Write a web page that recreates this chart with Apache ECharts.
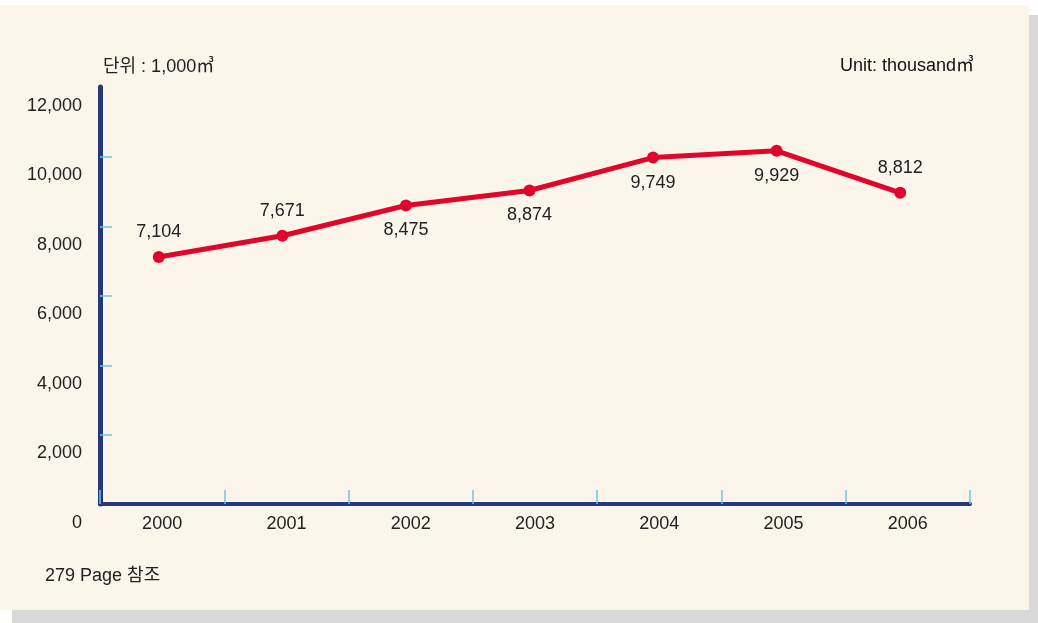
<!DOCTYPE html>
<html><head><meta charset="utf-8">
<script src="https://cdn.jsdelivr.net/npm/echarts@6/dist/echarts.min.js"></script>
<style>
html,body{margin:0;padding:0;background:#fff;width:1038px;height:623px;overflow:hidden;}
#shadow{position:absolute;left:12px;top:15px;width:1026px;height:608px;background:#d9d9d9;}
#paper{position:absolute;left:0;top:5px;width:1029px;height:605px;background:#fbf5ea;}
#chart{position:absolute;left:0;top:0;width:1038px;height:623px;}
</style></head>
<body>
<div id="shadow"></div><div id="paper"></div>
<div id="chart"></div>
<script>
const years = ['2000','2001','2002','2003','2004','2005','2006'];
const volumes = [7104, 7671, 8475, 8874, 9749, 9929, 8812];
const labelSide = ['top','top','bottom','bottom','bottom','bottom','top'];
const yTicks = [0, 2000, 4000, 6000, 8000, 10000, 12000];

const FONT = '"Liberation Sans", "Noto Sans CJK KR", sans-serif';
const NAVY = '#25387a';
const TICK = '#6cc4ea';
const RED = '#e1052c';
const yMin = yTicks[0], yMax = yTicks[yTicks.length-1], yStep = yTicks[1] - yTicks[0];

const chart = echarts.init(document.getElementById('chart'), null, {renderer:'canvas'});
chart.setOption({
  backgroundColor: 'transparent',
  animation: false,
  grid: [
    {left: 100, right: 68, top: 87, bottom: 119},   // frame
    {left: 97, right: 76, top: 73, bottom: 99},     // data
    {left: 100, right: 68, top: 106, bottom: 100},  // y labels
    {left: 100, right: 68, top: 157, bottom: 188}   // y inner ticks
  ],
  xAxis: [
    {gridIndex: 0, type: 'category', data: years, boundaryGap: true,
     axisLine: {show: true, lineStyle: {color: NAVY, width: 4}},
     axisTick: {show: true, inside: true, length: 14, lineStyle: {color: TICK, width: 1.5}},
     axisLabel: {color: '#222', fontFamily: FONT, fontSize: 18, margin: 11},
     splitLine: {show: false}},
    {gridIndex: 1, type: 'category', data: years, boundaryGap: true, show: false},
    {gridIndex: 2, type: 'category', data: years, show: false},
    {gridIndex: 3, type: 'category', data: years, show: false}
  ],
  yAxis: [
    {gridIndex: 0, type: 'value', min: yMin, max: yMax, interval: yStep,
     axisLine: {show: true, lineStyle: {color: NAVY, width: 5}},
     axisTick: {show: false}, axisLabel: {show: false}, splitLine: {show: false}},
    {gridIndex: 1, type: 'value', min: yMin, max: yMax, show: false, splitLine: {show: false}},
    {gridIndex: 2, type: 'value', min: yMin, max: yMax, interval: yStep,
     axisLine: {show: false}, axisTick: {show: false}, splitLine: {show: false},
     axisLabel: {color: '#222', fontFamily: FONT, fontSize: 18, margin: 18,
       formatter: v => v.toLocaleString('en-US')}},
    {gridIndex: 3, type: 'value', min: yTicks[1], max: yTicks[yTicks.length-2], interval: yStep,
     axisLine: {show: false}, axisLabel: {show: false}, splitLine: {show: false},
     axisTick: {show: true, inside: true, length: 12, lineStyle: {color: TICK, width: 1.5}}}
  ],
  series: [{
    type: 'line', xAxisIndex: 1, yAxisIndex: 1,
    data: volumes.map((v, i) => ({value: v, label: {position: labelSide[i]}})),
    symbol: 'circle', symbolSize: 12,
    lineStyle: {color: RED, width: 5},
    itemStyle: {color: RED},
    label: {show: true, distance: 10, color: '#222', fontFamily: FONT, fontSize: 18,
      formatter: p => p.value.toLocaleString('en-US')}
  }],
  graphic: [
    {type: 'text', left: 103, top: 58, style: {text: '단위 : 1,000㎥', font: '18px ' + FONT, fill: '#222'}},
    {type: 'text', right: 64, top: 57, style: {text: 'Unit: thousand㎥', font: '18px ' + FONT, fill: '#111'}},
    {type: 'text', left: 45, top: 567, style: {text: '279 Page 참조', font: '18px ' + FONT, fill: '#222'}}
  ]
});
</script>
</body></html>
